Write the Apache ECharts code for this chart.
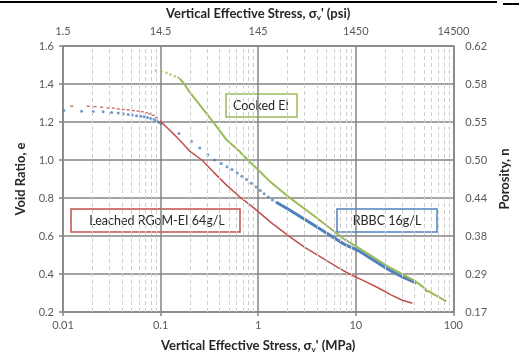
<!DOCTYPE html>
<html>
<head>
<meta charset="utf-8">
<script src="https://cdn.jsdelivr.net/npm/echarts@6/dist/echarts.min.js"></script>
<style>
  html, body { margin: 0; padding: 0; background: #fff; }
  #chart { width: 519px; height: 358px; }
</style>
</head>
<body>
<div id="chart"></div>
<script>
// stress in MPa, void ratio e
const leachedDotStress = [0.0123, 0.0181, 0.0213, 0.0249, 0.029, 0.0327, 0.0368, 0.0414, 0.0466, 0.0524, 0.0589, 0.0648, 0.0718, 0.0776, 0.0839, 0.0909]
const leachedDotE = [1.283, 1.283, 1.281, 1.278, 1.274, 1.273, 1.269, 1.266, 1.264, 1.26, 1.257, 1.254, 1.249, 1.243, 1.235, 1.223]
const leachedStress = [0.0983, 0.106, 0.119, 0.134, 0.16, 0.2, 0.265, 0.35, 0.48, 0.65, 0.82, 1.0, 1.4, 2.1, 3.0, 4.57, 6.8, 8.6, 12, 16.7, 23, 30, 38]
const leachedE = [1.206, 1.19, 1.166, 1.14, 1.1, 1.045, 1.0, 0.935, 0.865, 0.805, 0.765, 0.728, 0.665, 0.597, 0.54, 0.484, 0.43, 0.4, 0.365, 0.329, 0.29, 0.262, 0.246]

const rbbcDotStress = [0.0102, 0.0155, 0.0204, 0.0258, 0.0315, 0.0368, 0.0414, 0.0466, 0.0512, 0.0567, 0.0628, 0.068, 0.0735, 0.0795, 0.086, 0.091, 0.096, 0.1006,
  0.154, 0.207, 0.252, 0.305, 0.358, 0.42, 0.48, 0.54, 0.61, 0.68, 0.76, 0.85, 0.95, 1.05, 1.15, 1.27, 1.4, 1.55]
const rbbcDotE = [1.26, 1.257, 1.255, 1.254, 1.25, 1.247, 1.243, 1.24, 1.237, 1.233, 1.23, 1.227, 1.224, 1.218, 1.213, 1.206, 1.199, 1.192,
  1.14, 1.099, 1.063, 1.027, 1.0, 0.982, 0.965, 0.95, 0.932, 0.915, 0.897, 0.877, 0.858, 0.84, 0.823, 0.805, 0.79, 0.776]
const rbbcStress = [1.55, 2.1, 3.96, 7.67, 10.9, 21.1, 30, 41.8]
const rbbcE = [0.776, 0.737, 0.649, 0.556, 0.52, 0.427, 0.385, 0.352]

const cookedDotStress = [0.0894, 0.102, 0.115, 0.126, 0.14, 0.152]
const cookedDotE = [1.471, 1.466, 1.459, 1.45, 1.441, 1.433]
const cookedStress = [0.157, 0.175, 0.199, 0.235, 0.271, 0.343, 0.476, 0.647, 0.8, 0.966, 1.3, 2.0, 4.0, 7.67, 10.9, 21.1, 39.9, 48, 52, 53, 56, 62, 84.7]
const cookedE = [1.429, 1.4, 1.356, 1.31, 1.269, 1.202, 1.105, 1.045, 0.995, 0.955, 0.89, 0.81, 0.695, 0.582, 0.535, 0.442, 0.365, 0.335, 0.322, 0.308, 0.31, 0.295, 0.256]

const mpaLabels = ['0.01', '0.1', '1', '10', '100']
const psiLabels = ['1.5', '14.5', '145', '1450', '14500']
const porosityLabels = ['0.17', '0.29', '0.38', '0.44', '0.50', '0.55', '0.58', '0.62']

const RED = '#c0504d'
const BLUE = '#4f81bd'
const GREEN = '#9bbb59'
const GRID = '#858585'
const FONT = 'Lato'

function pairs(xs, ys) {
  return xs.map((x, i) => [x, ys[i]])
}

// dashed minor grid lines at 2..9 of every decade
const minorLines = []
for (let d = -2; d < 2; d++) {
  for (let k = 2; k <= 9; k++) {
    minorLines.push({ xAxis: k * Math.pow(10, d) })
  }
}

const decadeIndex = (v) => Math.round(Math.log10(v)) + 2

const nameStyle = {
  fontFamily: FONT,
  fontWeight: 'bold',
  fontSize: 13,
  color: '#262626',
  rich: {
    sub: { fontFamily: FONT, fontWeight: 'bold', fontSize: 8, color: '#262626', verticalAlign: 'bottom', padding: [7, 0, 0, 0] }
  }
}
const labelStyle = { fontFamily: FONT, fontSize: 11, color: '#595959' }

const chart = echarts.init(document.getElementById('chart'))
chart.setOption({
  animation: false,
  backgroundColor: '#fff',
  grid: { left: 63, top: 46, right: 65, bottom: 41 },
  xAxis: [
    {
      type: 'log',
      logBase: 10,
      min: 0.01,
      max: 100,
      position: 'bottom',
      name: "Vertical Effective Stress, σ{sub|v}' (MPa)",
      nameLocation: 'middle',
      nameGap: 26,
      nameTextStyle: nameStyle,
      axisLine: { show: true, lineStyle: { color: GRID, width: 1.5 } },
      axisTick: { show: true, length: 4, lineStyle: { color: GRID, width: 1.5 } },
      axisLabel: { ...labelStyle, margin: 8, formatter: (v) => mpaLabels[decadeIndex(v)] },
      splitLine: { show: true, lineStyle: { color: GRID, width: 1.5 } }
    },
    {
      type: 'log',
      logBase: 10,
      min: 0.01,
      max: 100,
      position: 'top',
      name: "Vertical Effective Stress, σ{sub|v}' (psi)",
      nameLocation: 'middle',
      nameGap: 25,
      nameTextStyle: nameStyle,
      axisLine: { show: true, lineStyle: { color: GRID, width: 1.5 } },
      axisTick: { show: false },
      axisLabel: { ...labelStyle, margin: 9, formatter: (v) => psiLabels[decadeIndex(v)] },
      splitLine: { show: false }
    }
  ],
  yAxis: [
    {
      type: 'value',
      min: 0.2,
      max: 1.6,
      interval: 0.2,
      position: 'left',
      name: 'Void Ratio, e',
      nameLocation: 'middle',
      nameRotate: 90,
      nameGap: 27,
      nameTextStyle: nameStyle,
      axisLine: { show: true, lineStyle: { color: GRID, width: 1.5 } },
      axisTick: { show: true, length: 4, lineStyle: { color: GRID, width: 1.5 } },
      axisLabel: { ...labelStyle, margin: 9, formatter: (v) => v.toFixed(1) },
      splitLine: { show: true, lineStyle: { color: GRID, width: 1.5 } }
    },
    {
      type: 'value',
      min: 0.2,
      max: 1.6,
      interval: 0.2,
      position: 'right',
      name: 'Porosity, n',
      nameLocation: 'middle',
      nameRotate: 90,
      nameGap: 40,
      nameTextStyle: nameStyle,
      axisLine: { show: true, lineStyle: { color: GRID, width: 1.5 } },
      axisTick: { show: false },
      axisLabel: { ...labelStyle, margin: 12, formatter: (v) => porosityLabels[Math.round((v - 0.2) / 0.2)] },
      splitLine: { show: false }
    }
  ],
  series: [
    {
      type: 'line',
      data: [],
      silent: true,
      z: 1,
      markLine: {
        silent: true,
        symbol: ['none', 'none'],
        label: { show: false },
        lineStyle: { color: '#cfcfcf', width: 1, type: [4, 3] },
        data: minorLines
      }
    },
    {
      name: 'Leached RGoM-EI 64g/L',
      type: 'scatter',
      symbol: 'rect',
      symbolSize: [3, 1.5],
      itemStyle: { color: RED, opacity: 0.8 },
      data: pairs(leachedDotStress, leachedDotE)
    },
    {
      name: 'Leached RGoM-EI 64g/L',
      type: 'line',
      showSymbol: false,
      lineStyle: { color: RED, width: 1.5 },
      data: pairs(leachedStress, leachedE)
    },
    {
      name: 'RBBC 16g/L',
      type: 'scatter',
      symbol: 'circle',
      symbolSize: 3,
      itemStyle: { color: BLUE },
      data: pairs(rbbcDotStress, rbbcDotE)
    },
    {
      name: 'RBBC 16g/L',
      type: 'line',
      showSymbol: false,
      lineStyle: { color: BLUE, width: 3 },
      data: pairs(rbbcStress, rbbcE)
    },
    {
      name: 'Cooked EI',
      type: 'scatter',
      symbol: 'circle',
      symbolSize: 2.5,
      itemStyle: { color: GREEN },
      data: pairs(cookedDotStress, cookedDotE)
    },
    {
      name: 'Cooked EI',
      type: 'line',
      showSymbol: false,
      lineStyle: { color: GREEN, width: 2 },
      data: pairs(cookedStress, cookedE)
    }
  ],
  graphic: [
    { type: 'line', shape: { x1: 0, y1: 2, x2: 497, y2: 2 }, style: { stroke: '#000', lineWidth: 2 } },
    { type: 'line', shape: { x1: 503, y1: 4, x2: 519, y2: 4 }, style: { stroke: '#000', lineWidth: 2 } },
    {
      type: 'group', z: 100,
      children: [
        { type: 'rect', shape: { x: 71, y: 209, width: 169, height: 23 }, style: { fill: '#fff', stroke: RED, lineWidth: 1.5 } },
        { type: 'text', x: 157, y: 221, style: { text: 'Leached RGoM-EI 64g/L', font: '12.5px Lato', fill: '#262626', align: 'center', verticalAlign: 'middle' } },
        { type: 'rect', shape: { x: 337, y: 209, width: 100, height: 23 }, style: { fill: '#fff', stroke: BLUE, lineWidth: 1.5 } },
        { type: 'text', x: 387, y: 221, style: { text: 'RBBC 16g/L', font: '12.5px Lato', fill: '#262626', align: 'center', verticalAlign: 'middle' } },
        { type: 'rect', shape: { x: 226, y: 94, width: 71, height: 23 }, style: { fill: '#fff', stroke: GREEN, lineWidth: 1.5 } },
        { type: 'text', x: 261, y: 106, style: { text: 'Cooked EI', font: '12.5px Lato', fill: '#262626', align: 'center', verticalAlign: 'middle' } }
      ]
    }
  ]
})
</script>
</body>
</html>
